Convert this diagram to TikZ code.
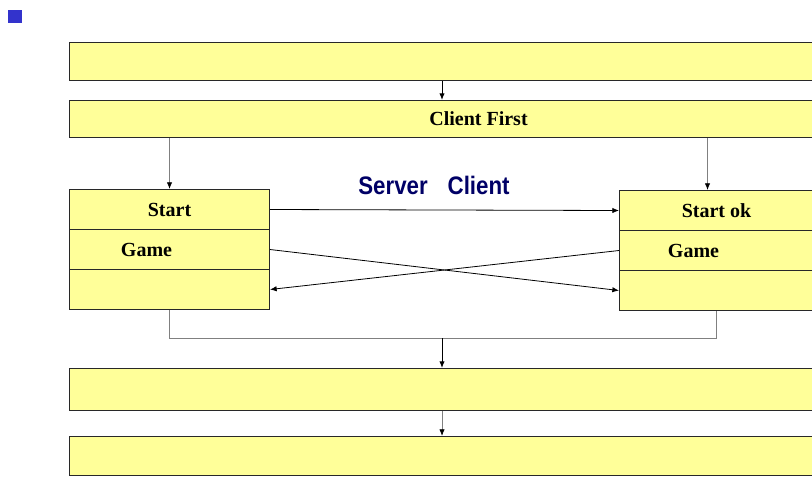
\documentclass[tikz,border=0pt]{standalone}
\usepackage{fontspec}
\setmainfont{Liberation Serif}
\newfontfamily\headfont{Liberation Sans}
\usetikzlibrary{arrows.meta}
\definecolor{boxfill}{RGB}{255,255,153}
\definecolor{boxline}{RGB}{40,40,40}
\definecolor{linkgray}{RGB}{128,128,128}
\definecolor{headblue}{RGB}{0,0,102}
\definecolor{bulletblue}{RGB}{51,51,204}
\tikzset{
  stagebox/.style={draw=boxline, fill=boxfill, line width=0.75pt, rectangle, inner sep=0pt, anchor=north west, minimum width=613.5pt, font=\fontsize{15}{18}\selectfont\bfseries},
  cellbox/.style={stagebox, minimum width=150pt, minimum height=30pt},
  link/.style={draw=linkgray, line width=0.6pt},
  tip/.style={-{Latex[length=5pt,width=4pt,color=black]}}
}
\begin{document}
\begin{tikzpicture}[x=0.75pt,y=0.75pt,yscale=-1,xscale=1]
        \useasboundingbox (0,0) rectangle (812,476);
        \clip (0,0) rectangle (812,476);
        %Shape: Square [id:bullet]
        \fill [bulletblue] (8,10) rectangle (22,23);
        % Stage boxes
        \node [stagebox, minimum height=28.5pt] (top) at (69,42) {};
        \node [stagebox, minimum height=27.75pt] (first) at (69,100) {Client First};
        \node [stagebox, minimum height=31.5pt] (play) at (69,368) {};
        \node [stagebox, minimum height=29.25pt] (last) at (69,436) {};
        % Server side
        \node [cellbox] (sstart) at (69,189) {Start};
        \node [cellbox] (sgame) at (69,229) {\hspace*{-34.5pt}Game};
        \node [cellbox] (sfree) at (69,269) {};
        % Client side
        \node [cellbox, minimum width=145.5pt] (cstart) at (619,190) {Start ok};
        \node [cellbox, minimum width=145.5pt] (cgame) at (619,230) {\hspace*{-34.5pt}Game};
        \node [cellbox, minimum width=145.5pt] (cfree) at (619,270) {};
        % Text Node
        \node [text=headblue, font=\headfont\fontsize{19}{22}\selectfont\bfseries] (title) at (434,185) {\scalebox{0.88}[1]{Server\hspace{17pt}Client}};
        % Connectors
        \coordinate (axis) at (442,338);
        \draw [tip, line width=0.75pt] (top.south -| axis) -- (first.north -| axis);
        \draw [link, tip] (sstart.north |- first.south) -- (sstart.north);
        \draw [link, tip] ([xshift=-6.75pt]cstart.north |- first.south) -- ([xshift=-6.75pt]cstart.north);
        \draw [tip, line width=0.6pt] (sstart.east) -- (cstart.west);
        \draw [tip, line width=0.6pt] (sgame.east) -- (cfree.west);
        \draw [tip, line width=0.6pt] (cgame.west) -- (sfree.east);
        \draw [link] (sfree.south) |- (axis) -| (cfree.south);
        \draw [tip, line width=0.75pt] (axis) -- (play.north -| axis);
        \draw [link, tip] (play.south -| axis) -- (last.north -| axis);
\end{tikzpicture}
\end{document}
